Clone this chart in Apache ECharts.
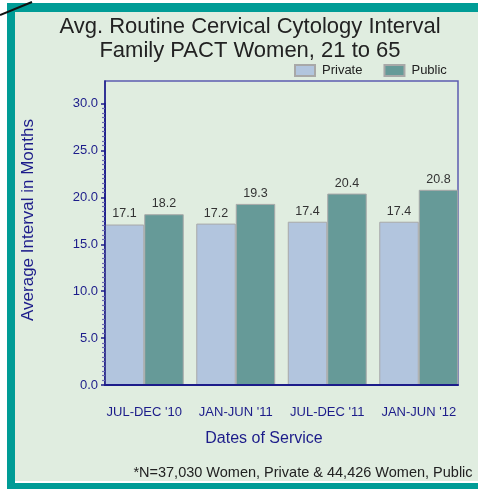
<!DOCTYPE html>
<html>
<head>
<meta charset="utf-8">
<script src="https://cdn.jsdelivr.net/npm/echarts@6/dist/echarts.min.js"></script>
<style>
  html, body { margin: 0; padding: 0; background: #fff; }
  #chart { width: 478px; height: 489px; }
</style>
</head>
<body>
<div id="chart"></div>
<script>
const categories = ["JUL-DEC '10", "JAN-JUN '11", "JUL-DEC '11", "JAN-JUN '12"];
const privateValues = [17.1, 17.2, 17.4, 17.4];
const publicValues = [18.2, 19.3, 20.4, 20.8];
const yTicks = { min: 0, max: 30, interval: 5 };

const navy = "#1c1c8a";
const frameColor = "#5c5cb0";
const font = "Liberation Sans, Arial, sans-serif";

const chart = echarts.init(document.getElementById("chart"));

chart.setOption({
  backgroundColor: "#ffffff",
  animation: false,
  textStyle: { fontFamily: font },
  graphic: [
    { type: "rect", z: -10, shape: { x: 7, y: 3, width: 480, height: 490 }, style: { fill: "#009c96" } },
    { type: "rect", z: -9, shape: { x: 15, y: 12, width: 470, height: 469 }, style: { fill: "#e0ede0" } },
    { type: "rect", z: -9, shape: { x: 15, y: 481, width: 470, height: 2 }, style: { fill: "#ffffff" } },
    { type: "line", z: 10, shape: { x1: 0, y1: 15, x2: 32, y2: 2 }, style: { stroke: "#111", lineWidth: 2 } },
    {
      type: "text",
      x: 28,
      y: 220,
      rotation: Math.PI / 2,
      style: {
        text: "Average Interval in Months",
        fill: navy,
        font: "17px " + font,
        align: "center",
        verticalAlign: "middle",
      },
    },
  ],
  title: [
    {
      text: "Avg. Routine Cervical Cytology Interval\nFamily PACT Women, 21 to 65",
      left: 250,
      top: 15,
      textAlign: "center",
      padding: 0,
      textStyle: { fontSize: 22, fontWeight: "normal", color: "#222", lineHeight: 24, fontFamily: font },
    },
    {
      text: "Dates of Service",
      left: 264,
      top: 431,
      textAlign: "center",
      padding: 0,
      textStyle: { fontSize: 16, fontWeight: "normal", color: navy, fontFamily: font },
    },
    {
      text: "*N=37,030 Women, Private & 44,426 Women, Public",
      left: 303,
      top: 465,
      textAlign: "center",
      padding: 0,
      textStyle: { fontSize: 14.5, fontWeight: "normal", color: "#222", fontFamily: font },
    },
  ],
  legend: {
    data: ["Private", "Public"],
    left: 294,
    top: 64,
    padding: 0,
    itemWidth: 20,
    itemHeight: 11,
    itemGap: 21,
    icon: "rect",
    textStyle: { fontSize: 13, color: "#222", padding: [0, 0, 0, 2] },
  },
  grid: [
    { left: 98.5, right: 13.5, top: 103.5, bottom: 104 },
    { left: 105, right: 20, top: 81, bottom: 104, show: true, borderColor: frameColor, borderWidth: 1.5, backgroundColor: "transparent" },
  ],
  xAxis: [
    {
      type: "category",
      gridIndex: 0,
      data: categories,
      axisLine: { show: false },
      axisTick: { show: false },
      axisLabel: { color: navy, fontSize: 13, margin: 21, interval: 0 },
    },
    {
      type: "category",
      gridIndex: 1,
      data: categories,
      z: 10,
      axisLine: { lineStyle: { color: navy, width: 2 } },
      axisTick: { show: false },
      axisLabel: { show: false },
    },
  ],
  yAxis: [
    {
      type: "value",
      gridIndex: 0,
      min: yTicks.min,
      max: yTicks.max,
      interval: yTicks.interval,
      offset: -6.5,
      z: 10,
      axisLine: { show: true, lineStyle: { color: navy, width: 1.5 } },
      axisTick: { show: true, length: 4, lineStyle: { color: navy, width: 1.5 } },
      minorTick: { show: true, splitNumber: 10, length: 3, lineStyle: { color: "#6b6bb0", width: 1.2 } },
      splitLine: { show: false },
      axisLabel: {
        color: navy,
        fontSize: 13,
        margin: 7,
        formatter: (v) => v.toFixed(1),
      },
    },
    {
      type: "value",
      gridIndex: 1,
      min: 0,
      max: 1,
      axisLine: { show: true, lineStyle: { color: navy, width: 1.5 } },
      axisTick: { show: false },
      axisLabel: { show: false },
      splitLine: { show: false },
    },
  ],
  series: [
    {
      name: "Private",
      type: "bar",
      xAxisIndex: 0,
      yAxisIndex: 0,
      data: privateValues,
      barGap: "0%",
      barCategoryGap: "13.7%",
      itemStyle: { color: "#b2c5de", borderColor: "#a8a8a8", borderWidth: 1 },
      label: { show: true, position: "top", distance: 4, color: "#333", fontSize: 12.5, formatter: (p) => p.value.toFixed(1) },
    },
    {
      name: "Public",
      type: "bar",
      xAxisIndex: 0,
      yAxisIndex: 0,
      data: publicValues,
      barGap: "0%",
      barCategoryGap: "13.7%",
      itemStyle: { color: "#669a98", borderColor: "#a8a8a8", borderWidth: 1 },
      label: { show: true, position: "top", distance: 4, color: "#333", fontSize: 12.5, formatter: (p) => p.value.toFixed(1) },
    },
  ],
});

window.addEventListener("resize", () => {
  chart && chart.resize();
});
</script>
</body>
</html>
